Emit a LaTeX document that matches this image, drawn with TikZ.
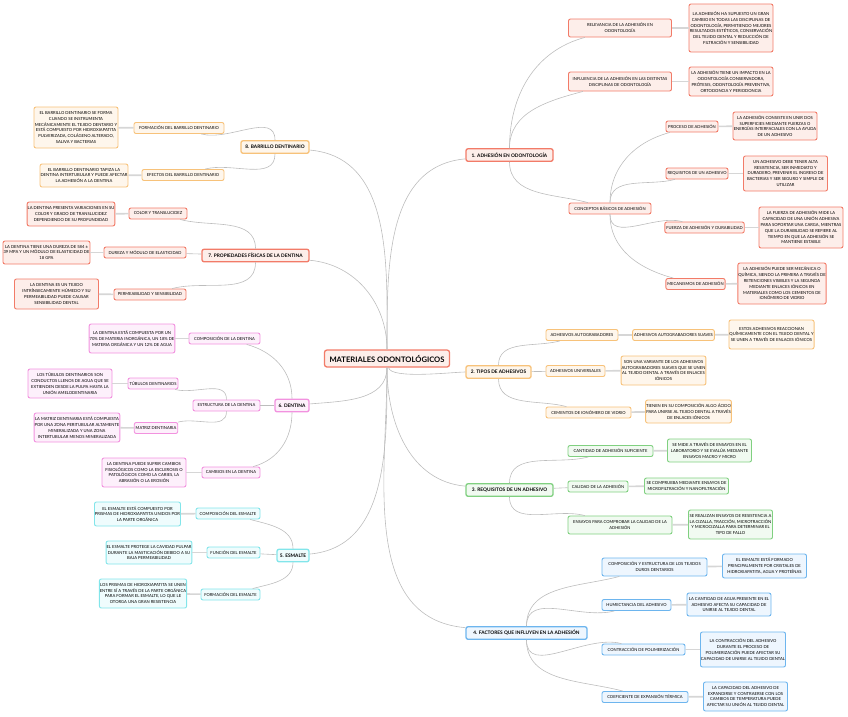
\documentclass[tikz,border=0pt]{standalone}
\usepackage{fontspec}
\setmainfont{Lato}
\definecolor{cRed}{HTML}{F27B68}\definecolor{cRedL}{HTML}{FDEEEA}
\definecolor{cOrg}{HTML}{F7C27A}\definecolor{cOrgL}{HTML}{FEF6EC}
\definecolor{cGrn}{HTML}{80D080}\definecolor{cGrnL}{HTML}{F1FAF1}
\definecolor{cBlu}{HTML}{6DB5EE}\definecolor{cBluL}{HTML}{EEF6FE}
\definecolor{cCyn}{HTML}{82E5EA}\definecolor{cCynL}{HTML}{EFFCFD}
\definecolor{cPnk}{HTML}{F292DF}\definecolor{cPnkL}{HTML}{FDF0FB}
\definecolor{lnk}{HTML}{BDBDBD}
\definecolor{tieg}{HTML}{D6D6D6}
\tikzset{
  root/.style={draw=cRed,fill=cRedL,line width=1.3pt,rounded corners=2.5pt,font=\bfseries\fontsize{7.6}{9}\selectfont,minimum width=125pt,minimum height=17pt,inner sep=1pt},
  topic/.style={draw=#1,fill=#1L,line width=1.3pt,rounded corners=2pt,font=\bfseries\fontsize{4.8}{6}\selectfont,minimum height=12.5pt,inner xsep=1.5pt,inner ysep=1pt},
  sub/.style={draw=#1,fill=#1L,line width=0.9pt,rounded corners=2pt,font=\fontsize{4.1}{6}\selectfont,align=center,minimum height=11pt,inner xsep=1.5pt,inner ysep=1pt},
  note/.style={draw=#1,fill=#1L,line width=0.9pt,rounded corners=2pt,font=\fontsize{4.15}{5.8}\selectfont,align=center,minimum width=84pt,inner xsep=0.5pt,inner ysep=1pt},
  link/.style={draw=lnk,line width=0.6pt},
  tie/.style={draw=tieg,line width=1.6pt},
  rise/.style={out=90,in=195},
  fall/.style={out=-90,in=165},
  lrise/.style={out=90,in=-15},
  lfall/.style={out=-90,in=15}
}
\begin{document}
\begin{tikzpicture}[x=1pt,y=-1pt]
  \useasboundingbox (0,0) rectangle (848,716);
  % centre
  \node[root] (root) at (387,358.5) {MATERIALES ODONTOLÓGICOS};
  % main topics
  \node[topic=cRed,minimum width=87pt] (t1) at (509.5,155) {1. ADHESIÓN EN ODONTOLOGÍA};
  \node[topic=cOrg,minimum width=65pt] (t2) at (498.5,372) {2. TIPOS DE ADHESIVOS};
  \node[topic=cGrn,minimum width=87pt] (t3) at (509.5,490) {3. REQUISITOS DE UN ADHESIVO};
  \node[topic=cBlu,minimum width=121pt] (t4) at (526.5,633) {4. FACTORES QUE INFLUYEN EN LA ADHESIÓN};
  \node[topic=cCyn,minimum width=32pt] (t5) at (293,555.5) {5. ESMALTE};
  \node[topic=cPnk,minimum width=34pt] (t6) at (292,405.5) {6. DENTINA};
  \node[topic=cRed,minimum width=107pt] (t7) at (255.5,255.5) {7. PROPIEDADES FÍSICAS DE LA DENTINA};
  \node[topic=cOrg,minimum width=68pt] (t8) at (275,147) {8. BARRILLO DENTINARIO};

  % 1
  \node[sub=cRed,minimum width=103pt,minimum height=18pt] (s1a) at (620,28) {RELEVANCIA DE LA ADHESIÓN EN\\ODONTOLOGÍA};
  \node[note=cRed,minimum height=48pt] (n1a) at (731,28) {LA ADHESIÓN HA SUPUESTO UN GRAN\\CAMBIO EN TODAS LAS DISCIPLINAS DE\\ODONTOLOGÍA, PERMITIENDO MEJORES\\RESULTADOS ESTÉTICOS, CONSERVACIÓN\\DEL TEJIDO DENTAL Y REDUCCIÓN DE\\FILTRACIÓN Y SENSIBILIDAD};
  \node[sub=cRed,minimum width=103pt,minimum height=19pt] (s1b) at (620,81.5) {INFLUENCIA DE LA ADHESIÓN EN LAS DISTINTAS\\DISCIPLINAS DE ODONTOLOGÍA};
  \node[note=cRed,minimum height=29pt] (n1b) at (731,81.5) {LA ADHESIÓN TIENE UN IMPACTO EN LA\\ODONTOLOGÍA CONSERVADORA,\\PRÓTESIS, ODONTOLOGÍA PREVENTIVA,\\ORTODONCIA Y PERIODONCIA};
  \node[sub=cRed,minimum width=82pt] (s1c) at (610,208.5) {CONCEPTOS BÁSICOS DE ADHESIÓN};
  \node[sub=cRed,minimum width=52pt] (s1c1) at (692,126.5) {PROCESO DE ADHESIÓN};
  \node[note=cRed,minimum height=28pt] (n1c1) at (775,126) {LA ADHESIÓN CONSISTE EN UNIR DOS\\SUPERFICIES MEDIANTE FUERZAS O\\ENERGÍAS INTERFACIALES CON LA AYUDA\\DE UN ADHESIVO};
  \node[sub=cRed,minimum width=62pt] (s1c2) at (697,173.5) {REQUISITOS DE UN ADHESIVO};
  \node[note=cRed,minimum height=35pt] (n1c2) at (785.5,173.5) {UN ADHESIVO DEBE TENER ALTA\\RESISTENCIA, SER INMEDIATO Y\\DURADERO, PREVENIR EL INGRESO DE\\BACTERIAS Y SER SEGURO Y SIMPLE DE\\UTILIZAR};
  \node[sub=cRed,minimum width=77pt] (s1c3) at (704.5,227.5) {FUERZA DE ADHESIÓN Y DURABILIDAD};
  \node[note=cRed,minimum height=41pt] (n1c3) at (801,227.5) {LA FUERZA DE ADHESIÓN MIDE LA\\CAPACIDAD DE UNA UNIÓN ADHESIVA\\PARA SOPORTAR UNA CARGA, MIENTRAS\\QUE LA DURABILIDAD SE REFIERE AL\\TIEMPO EN QUE LA ADHESIÓN SE\\MANTIENE ESTABLE};
  \node[sub=cRed,minimum width=59pt] (s1c4) at (695.5,284) {MECANISMOS DE ADHESIÓN};
  \node[note=cRed,minimum height=41pt] (n1c4) at (782,283.5) {LA ADHESIÓN PUEDE SER MECÁNICA O\\QUÍMICA, SIENDO LA PRIMERA A TRAVÉS DE\\RETENCIONES VISIBLES Y LA SEGUNDA\\MEDIANTE ENLACES IÓNICOS EN\\MATERIALES COMO LOS CEMENTOS DE\\IONÓMERO DE VIDRIO};

  % 2
  \node[sub=cOrg,minimum width=72pt] (s2a) at (582,335) {ADHESIVOS AUTOGRABADORES};
  \node[sub=cOrg,minimum width=81pt] (s2a1) at (673.5,335) {ADHESIVOS AUTOGRABADORES SUAVES};
  \node[note=cOrg,minimum height=29pt] (n2a) at (771.5,334.5) {ESTOS ADHESIVOS REACCIONAN\\QUÍMICAMENTE CON EL TEJIDO DENTAL Y\\SE UNEN A TRAVÉS DE ENLACES IÓNICOS};
  \node[sub=cOrg,minimum width=59pt] (s2b) at (575.5,371) {ADHESIVOS UNIVERSALES};
  \node[note=cOrg,minimum height=29pt] (n2b) at (663.5,370.5) {SON UNA VARIANTE DE LOS ADHESIVOS\\AUTOGRABADORES SUAVES QUE SE UNEN\\AL TEJIDO DENTAL A TRAVÉS DE ENLACES\\IÓNICOS};
  \node[sub=cOrg,minimum width=85pt] (s2c) at (588.5,412.5) {CEMENTOS DE IONÓMERO DE VIDRIO};
  \node[note=cOrg,minimum height=23pt] (n2c) at (688.5,411.5) {TIENEN EN SU COMPOSICIÓN ALGO ÁCIDO\\PARA UNIRSE AL TEJIDO DENTAL A TRAVÉS\\DE ENLACES IÓNICOS};

  % 3
  \node[sub=cGrn,minimum width=85pt] (s3a) at (610.5,451) {CANTIDAD DE ADHESIÓN SUFICIENTE};
  \node[note=cGrn,minimum height=23pt] (n3a) at (709.5,450.5) {SE MIDE A TRAVÉS DE ENSAYOS EN EL\\LABORATORIO Y SE EVALÚA MEDIANTE\\ENSAYOS MACRO Y MICRO};
  \node[sub=cGrn,minimum width=60pt] (s3b) at (598,486.5) {CALIDAD DE LA ADHESIÓN};
  \node[note=cGrn,minimum height=16pt] (n3b) at (686.5,486) {SE COMPRUEBA MEDIANTE ENSAYOS DE\\MICROFILTRACIÓN Y NANOFILTRACIÓN};
  \node[sub=cGrn,minimum width=104pt,minimum height=18pt] (s3c) at (620,525) {ENSAYOS PARA COMPROBAR LA CALIDAD DE LA\\ADHESIÓN};
  \node[note=cGrn,minimum height=29pt] (n3c) at (730.5,524.5) {SE REALIZAN ENSAYOS DE RESISTENCIA A\\LA CIZALLA, TRACCIÓN, MICROTRACCIÓN\\Y MICROCIZALLA PARA DETERMINAR EL\\TIPO DE FALLO};

  % 4
  \node[sub=cBlu,minimum width=105pt,minimum height=18pt] (s4a) at (654.5,567) {COMPOSICIÓN Y ESTRUCTURA DE LOS TEJIDOS\\DUROS DENTARIOS};
  \node[note=cBlu,minimum height=24pt] (n4a) at (764.5,566) {EL ESMALTE ESTÁ FORMADO\\PRINCIPALMENTE POR CRISTALES DE\\HIDROXIAPATITA, AGUA Y PROTEÍNAS};
  \node[sub=cBlu,minimum width=69pt] (s4b) at (636.5,605) {HUMECTANCIA DEL ADHESIVO};
  \node[note=cBlu,minimum height=23pt] (n4b) at (729,604.5) {LA CANTIDAD DE AGUA PRESENTE EN EL\\ADHESIVO AFECTA SU CAPACIDAD DE\\UNIRSE AL TEJIDO DENTAL};
  \node[sub=cBlu,minimum width=83pt] (s4c) at (643.5,649.5) {CONTRACCIÓN DE POLIMERIZACIÓN};
  \node[note=cBlu,minimum height=35pt] (n4c) at (743,649.5) {LA CONTRACCIÓN DEL ADHESIVO\\DURANTE EL PROCESO DE\\POLIMERIZACIÓN PUEDE AFECTAR SU\\CAPACIDAD DE UNIRSE AL TEJIDO DENTAL};
  \node[sub=cBlu,minimum width=86pt] (s4d) at (645,697) {COEFICIENTE DE EXPANSIÓN TÉRMICA};
  \node[note=cBlu,minimum height=29pt] (n4d) at (745.5,696.5) {LA CAPACIDAD DEL ADHESIVO DE\\EXPANDIRSE Y CONTRAERSE CON LOS\\CAMBIOS DE TEMPERATURA PUEDE\\AFECTAR SU UNIÓN AL TEJIDO DENTAL};

  % 5
  \node[sub=cCyn,minimum width=64pt] (s5a) at (228,513.5) {COMPOSICIÓN DEL ESMALTE};
  \node[note=cCyn,minimum height=24pt] (n5a) at (137.5,514) {EL ESMALTE ESTÁ COMPUESTO POR\\PRISMAS DE HIDROXIAPATITA UNIDOS POR\\LA PARTE ORGÁNICA};
  \node[sub=cCyn,minimum width=53pt] (s5b) at (233.5,552.5) {FUNCIÓN DEL ESMALTE};
  \node[note=cCyn,minimum height=23pt] (n5b) at (149,552.5) {EL ESMALTE PROTEGE LA CAVIDAD PULPAR\\DURANTE LA MASTICACIÓN DEBIDO A SU\\BAJA PERMEABILIDAD};
  \node[sub=cCyn,minimum width=59pt] (s5c) at (230.5,594.5) {FORMACIÓN DEL ESMALTE};
  \node[note=cCyn,minimum height=29pt] (n5c) at (143,593.5) {LOS PRISMAS DE HIDROXIAPATITA SE UNEN\\ENTRE SÍ A TRAVÉS DE LA PARTE ORGÁNICA\\PARA FORMAR EL ESMALTE, LO QUE LE\\OTORGA UNA GRAN RESISTENCIA};

  % 6
  \node[sub=cPnk,minimum width=71pt] (s6a) at (224.5,338.5) {COMPOSICIÓN DE LA DENTINA};
  \node[note=cPnk,minimum height=29pt] (n6a) at (132,338.5) {LA DENTINA ESTÁ COMPUESTA POR UN\\70\% DE MATERIA INORGÁNICA, UN 18\% DE\\MATERIA ORGÁNICA Y UN 12\% DE AGUA};
  \node[sub=cPnk,minimum width=67pt] (s6b) at (226.5,405.5) {ESTRUCTURA DE LA DENTINA};
  \node[sub=cPnk,minimum width=50pt] (s6b1) at (153,383.5) {TÚBULOS DENTINARIOS};
  \node[note=cPnk,minimum height=29pt] (n6b1) at (70,383.5) {LOS TÚBULOS DENTINARIOS SON\\CONDUCTOS LLENOS DE AGUA QUE SE\\EXTIENDEN DESDE LA PULPA HASTA LA\\UNIÓN AMELODENTINARIA};
  \node[sub=cPnk,minimum width=42pt] (s6b2) at (156,428) {MATRIZ DENTINARIA};
  \node[note=cPnk,minimum height=29pt] (n6b2) at (77,427.5) {LA MATRIZ DENTINARIA ESTÁ COMPUESTA\\POR UNA ZONA PERITUBULAR ALTAMENTE\\MINERALIZADA Y UNA ZONA\\INTERTUBULAR MENOS MINERALIZADA};
  \node[sub=cPnk,minimum width=58pt] (s6c) at (231,472.5) {CAMBIOS EN LA DENTINA};
  \node[note=cPnk,minimum height=29pt] (n6c) at (144,472.5) {LA DENTINA PUEDE SUFRIR CAMBIOS\\FISIOLÓGICOS COMO LA ESCLEROSIS O\\PATOLÓGICOS COMO LA CARIES, LA\\ABRASIÓN O LA EROSIÓN};

  % 7
  \node[sub=cRed,minimum width=58pt] (s7a) at (158,213.5) {COLOR Y TRANSLUCIDEZ};
  \node[note=cRed,minimum height=24pt] (n7a) at (71,214) {LA DENTINA PRESENTA VARIACIONES EN SU\\COLOR Y GRADO DE TRANSLUCIDEZ\\DEPENDIENDO DE SU PROFUNDIDAD};
  \node[sub=cRed,minimum width=82pt] (s7b) at (145,252.5) {DUREZA Y MÓDULO DE ELASTICIDAD};
  \node[note=cRed,minimum height=23pt] (n7b) at (46.5,252.5) {LA DENTINA TIENE UNA DUREZA DE 584 ±\\39 MPA Y UN MÓDULO DE ELASTICIDAD DE\\18 GPA};
  \node[sub=cRed,minimum width=72pt] (s7c) at (150,294.5) {PERMEABILIDAD Y SENSIBILIDAD};
  \node[note=cRed,minimum height=30pt] (n7c) at (56.5,294) {LA DENTINA ES UN TEJIDO\\INTRÍNSECAMENTE HÚMEDO Y SU\\PERMEABILIDAD PUEDE CAUSAR\\SENSIBILIDAD DENTAL};

  % 8
  \node[sub=cOrg,minimum width=90pt] (s8a) at (179,128) {FORMACIÓN DEL BARRILLO DENTINARIO};
  \node[note=cOrg,minimum height=41pt] (n8a) at (76,127.5) {EL BARRILLO DENTINARIO SE FORMA\\CUANDO SE INSTRUMENTA\\MECÁNICAMENTE EL TEJIDO DENTARIO Y\\ESTÁ COMPUESTO POR HIDROXIAPATITA\\PULVERIZADA, COLÁGENO ALTERADO,\\SALIVA Y BACTERIAS};
  \node[sub=cOrg,minimum width=82pt] (s8b) at (183,175) {EFECTOS DEL BARRILLO DENTINARIO};
  \node[note=cOrg,minimum height=23pt] (n8b) at (84,175.5) {EL BARRILLO DENTINARIO TAPIZA LA\\DENTINA INTERTUBULAR Y PUEDE AFECTAR\\LA ADHESIÓN A LA DENTINA};

  % connectors
  \draw[link] (root) to[out=90,in=185] (t1);
  \draw[link] (root) to[out=-80,in=180,looseness=0.4] (t2);
  \draw[link] (root) to[out=-90,in=175] (t3);
  \draw[link] (root) to[out=-90,in=175] (t4);
  \draw[link] (root) to[out=-90,in=5] (t5);
  \draw[link] (root) to[out=-90,in=5] (t6);
  \draw[link] (root) to[out=90,in=-5] (t7);
  \draw[link] (root) to[out=90,in=-5] (t8);

  \draw[link] (t1) to[rise] (s1a);
  \draw[link] (t1) to[rise] (s1b);
  \draw[link] (t1) to[fall] (s1c);
  \draw[link] (s1c) to[rise] (s1c1);
  \draw[link] (s1c) to[rise] (s1c2);
  \draw[link] (s1c) to[fall] (s1c3);
  \draw[link] (s1c) to[fall] (s1c4);
  \draw[link] (t2) to[rise] (s2a);
  \draw[link] (t2) -- (s2b);
  \draw[link] (t2) to[fall] (s2c);
  \draw[link] (t3) to[rise] (s3a);
  \draw[link] (t3) -- (s3b);
  \draw[link] (t3) to[fall] (s3c);
  \draw[link] (t4) to[rise] (s4a);
  \draw[link] (t4) to[rise] (s4b);
  \draw[link] (t4) to[fall] (s4c);
  \draw[link] (t4) to[fall] (s4d);
  \draw[link] (t5) to[lrise] (s5a);
  \draw[link] (t5) -- (s5b);
  \draw[link] (t5) to[lfall] (s5c);
  \draw[link] (t6) to[lrise] (s6a);
  \draw[link] (t6) -- (s6b);
  \draw[link] (t6) to[lfall] (s6c);
  \draw[link] (s6b) to[lrise] (s6b1);
  \draw[link] (s6b) to[lfall] (s6b2);
  \draw[link] (t7) to[lrise] (s7a);
  \draw[link] (t7) -- (s7b);
  \draw[link] (t7) to[lfall] (s7c);
  \draw[link] (t8) to[lrise] (s8a);
  \draw[link] (t8) to[lfall] (s8b);

  \foreach \a/\b in {s1a/n1a,s1b/n1b,s1c1/n1c1,s1c2/n1c2,s1c3/n1c3,s1c4/n1c4,
    s2a/s2a1,s2a1/n2a,s2b/n2b,s2c/n2c,s3a/n3a,s3b/n3b,s3c/n3c,
    s4a/n4a,s4b/n4b,s4c/n4c,s4d/n4d,s5a/n5a,s5b/n5b,s5c/n5c,
    s6a/n6a,s6b1/n6b1,s6b2/n6b2,s6c/n6c,s7a/n7a,s7b/n7b,s7c/n7c,s8a/n8a,s8b/n8b}
    \draw[tie] (\a) -- (\b);
\end{tikzpicture}
\end{document}
